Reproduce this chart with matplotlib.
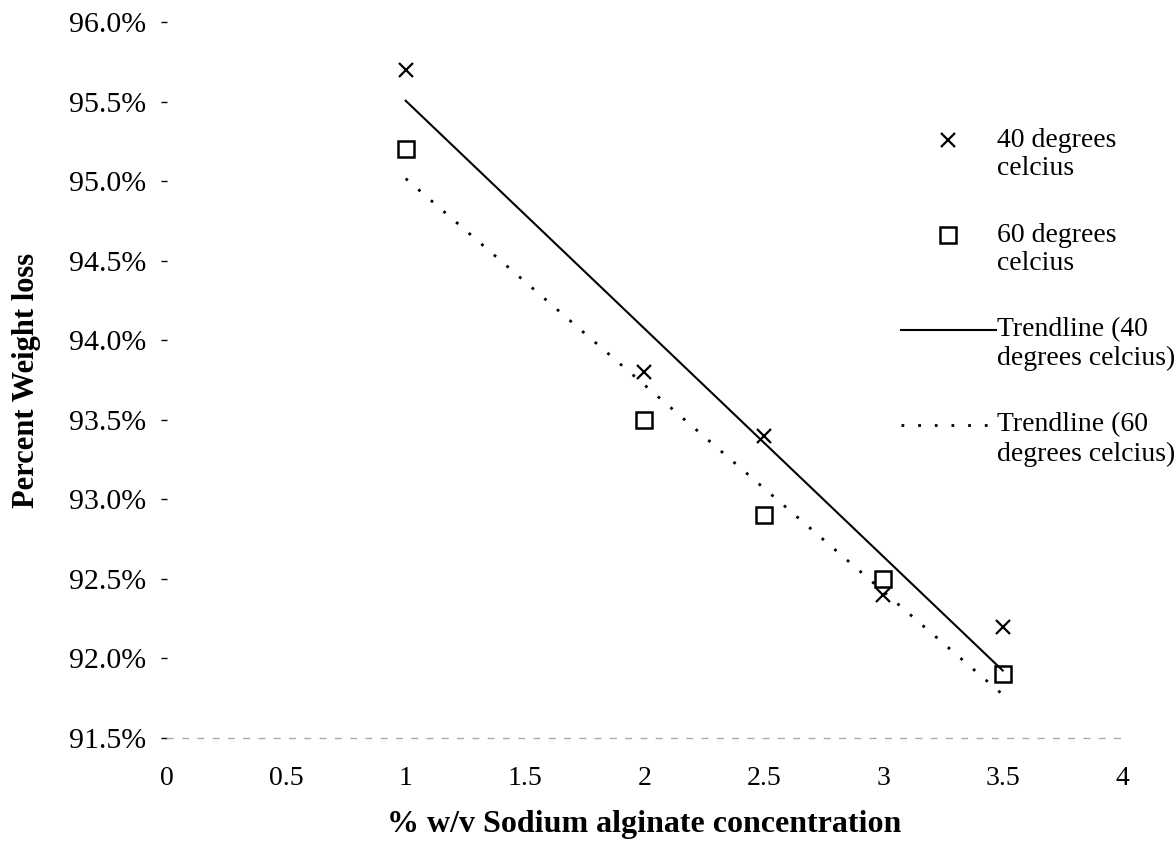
import numpy as np
import matplotlib
matplotlib.use("Agg")
import matplotlib.pyplot as plt
from matplotlib.lines import Line2D
from matplotlib.legend_handler import HandlerLine2D
from matplotlib.ticker import FuncFormatter

plt.rcParams['font.family'] = ['Liberation Serif', 'DejaVu Serif']

# data
conc = [1, 2, 2.5, 3, 3.5]
loss_40 = [95.7, 93.8, 93.4, 92.4, 92.2]
loss_60 = [95.2, 93.5, 92.9, 92.5, 91.9]

xticks = [0, 0.5, 1, 1.5, 2, 2.5, 3, 3.5, 4]
yticks = [91.5, 92.0, 92.5, 93.0, 93.5, 94.0, 94.5, 95.0, 95.5, 96.0]

# linear trendlines from the points
x = np.array(conc)
m40, b40 = np.polyfit(x, loss_40, 1)
m60, b60 = np.polyfit(x, loss_60, 1)
xt = np.array([min(conc), max(conc)])


# legend handles sit level with the first line of the label
class UpHandler(HandlerLine2D):
    def create_artists(self, legend, orig_handle, xdescent, ydescent,
                       width, height, fontsize, trans):
        return super().create_artists(legend, orig_handle, xdescent,
                                      ydescent - fontsize, width, height,
                                      fontsize, trans)


fig = plt.figure(figsize=(11.75, 8.63), dpi=100)
ax = fig.add_axes([0.142, 0.1448, 0.813, 0.8297])

ax.plot(conc, loss_40, linestyle='none', marker='x', color='black',
        markersize=10, markeredgewidth=1.6, label='40 degrees\ncelcius')
ax.plot(conc, loss_60, linestyle='none', marker='s', color='black',
        markerfacecolor='white', markersize=11, markeredgewidth=1.8,
        label='60 degrees\ncelcius')
ax.plot(xt, m40 * xt + b40, color='black', linewidth=1.5,
        label='Trendline (40\ndegrees celcius)')
ax.plot(xt, m60 * xt + b60, color='black', linewidth=2.0, linestyle=(0, (1, 5)),
        label='Trendline (60\ndegrees celcius)')

ax.set_xlim(0, 4)
ax.set_ylim(91.5, 96.0)
ax.set_xticks(xticks)
ax.set_yticks(yticks)
ax.set_xticklabels(['0', '0.5', '1', '1.5', '2', '2.5', '3', '3.5', '4'])
ax.yaxis.set_major_formatter(FuncFormatter(lambda v, p: '%.1f%%' % v))

for s in ['top', 'right', 'left']:
    ax.spines[s].set_visible(False)
ax.spines['bottom'].set_color('#aaaaaa')
ax.spines['bottom'].set_linestyle((0, (4, 7)))
ax.spines['bottom'].set_linewidth(1.0)

ax.tick_params(axis='y', length=4, width=1, direction='out', pad=11, labelsize=21.5)
ax.tick_params(axis='x', length=0, pad=20, labelsize=20)

ax.set_xlabel('% w/v Sodium alginate concentration', fontsize=23,
              fontweight='bold', labelpad=14)
ax.set_ylabel('Percent Weight loss', fontsize=22, fontweight='bold', labelpad=20)

leg = ax.legend(loc='upper left', bbox_to_anchor=(0.757, 0.868), frameon=False,
                fontsize=20, handlelength=3.4, handletextpad=0.05,
                labelspacing=1.48, borderaxespad=0,
                handler_map={Line2D: UpHandler()})

fig.savefig('out.png', dpi=100)
